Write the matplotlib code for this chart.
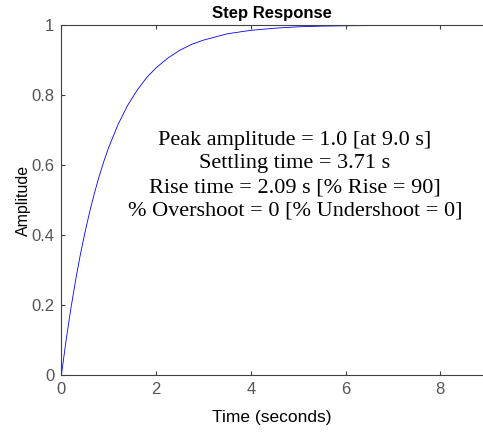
import matplotlib
matplotlib.use("Agg")
import matplotlib.pyplot as plt

# step response samples
time_s = [0, 0.1, 0.2, 0.3, 0.4, 0.5, 0.6, 0.7, 0.8, 0.9, 1.0, 1.2, 1.4, 1.6,
          1.8, 2.0, 2.25, 2.5, 2.75, 3.0, 3.5, 4.0, 4.5, 5.0, 5.5, 6.0, 7.0,
          8.0, 9.0]
amplitude = [0, 0.100, 0.190, 0.271, 0.344, 0.409, 0.468, 0.521, 0.569, 0.612,
             0.651, 0.717, 0.771, 0.814, 0.850, 0.878, 0.906, 0.928, 0.945,
             0.957, 0.975, 0.985, 0.991, 0.995, 0.997, 0.998, 0.999, 1.0, 1.0]

info_lines = [
    "Peak amplitude = 1.0 [at 9.0 s]",
    "Settling time = 3.71 s",
    "Rise time = 2.09 s [% Rise = 90]",
    "% Overshoot = 0 [% Undershoot = 0]",
]
x_ticks = [0, 2, 4, 6, 8]
y_ticks = [0, 0.2, 0.4, 0.6, 0.8, 1]
y_tick_labels = ["0", "0.2", "0.4", "0.6", "0.8", "1"]

plt.rcParams["font.family"] = ["Liberation Sans", "DejaVu Sans"]

fig = plt.figure(figsize=(4.83, 4.32), dpi=100)
ax = fig.add_axes([0.127, 0.131, 0.873, 0.811])

ax.plot(time_s, amplitude, color="#0000ff", linewidth=0.6)

ax.set_xlim(0, 8.9)
ax.set_ylim(0, 1)
ax.set_xticks(x_ticks)
ax.set_yticks(y_ticks)
ax.set_yticklabels(y_tick_labels)
ax.tick_params(direction="in", length=3, width=0.8, colors="#404040",
               labelcolor="#555555", labelsize=12, top=True, pad=5)
for side in ["left", "bottom", "top"]:
    ax.spines[side].set_color("#404040")
    ax.spines[side].set_linewidth(0.8)
ax.spines["right"].set_visible(False)

ax.set_title("Step Response", fontsize=12, fontweight="bold", pad=5)
ax.set_xlabel("Time (seconds)", fontsize=12.5, labelpad=9)
ax.set_ylabel("Amplitude", fontsize=11.5, labelpad=0)

ax.text(0.554, 0.57, "\n".join(info_lines), transform=ax.transAxes,
        ha="center", va="center", fontsize=16, linespacing=1.33,
        family=["Liberation Serif", "DejaVu Serif"])

fig.savefig("out.png", dpi=100)
